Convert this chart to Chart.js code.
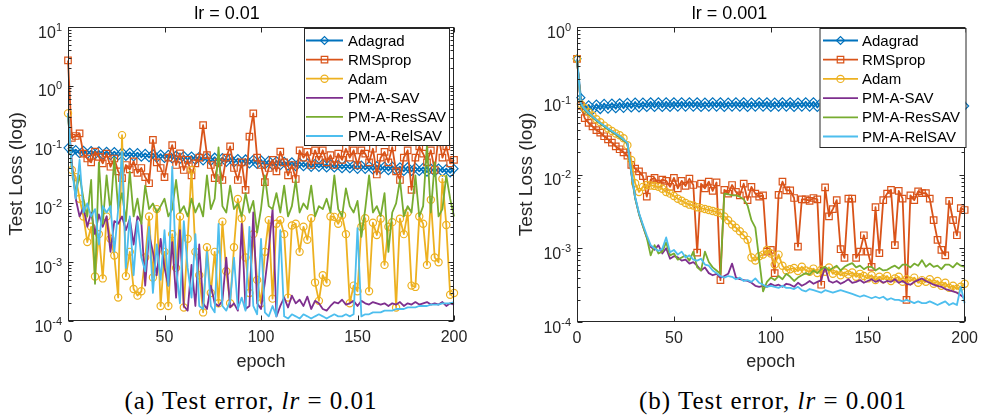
<!DOCTYPE html>
<html>
<head>
<meta charset="utf-8">
<script src="https://cdn.jsdelivr.net/npm/chart.js@4.4.1/dist/chart.umd.min.js"></script>
<style>
  body { margin: 0; background: #fff; width: 985px; height: 419px; overflow: hidden; position: relative; }
  .panel { position: absolute; top: 0; }
  .cap {
    position: absolute; top: 386px; line-height: 30px; white-space: nowrap;
    font-family: "Liberation Serif", "DejaVu Serif", serif; font-size: 25px; letter-spacing: 1px;
    color: #000; transform: translateX(-50%);
  }
</style>
</head>
<body>
<div class="panel" style="left:0"><canvas id="lossA" width="490" height="380"></canvas></div>
<div class="panel" style="left:490px"><canvas id="lossB" width="495" height="380"></canvas></div>
<div class="cap" style="left:251px">(a) Test error, <i>lr</i> = 0.01</div>
<div class="cap" style="left:773px">(b) Test error, <i>lr</i> = 0.001</div>
<script>
// sampled epochs (every 2nd epoch)
const epochs = [0,2,4,6,8,10,12,14,16,18,20,22,24,26,28,30,32,34,36,38,40,42,44,46,48,50,52,54,56,58,
  60,62,64,66,68,70,72,74,76,78,80,82,84,86,88,90,92,94,96,98,100,102,104,106,108,110,112,114,116,118,
  120,122,124,126,128,130,132,134,136,138,140,142,144,146,148,150,152,154,156,158,160,162,164,166,168,
  170,172,174,176,178,180,182,184,186,188,190,192,194,196,198,200];

const methods = ['Adagrad', 'RMSprop', 'Adam', 'PM-A-SAV', 'PM-A-ResSAV', 'PM-A-RelSAV'];
const xTicks = [0, 50, 100, 150, 200];

// ---- lr = 0.01 ----
const adagradA = [.088,.074,.082,.070,.080,.068,.079,.067,.078,.066,
  .077,.065,.076,.064,.075,.063,.074,.062,.073,.061,
  .071,.060,.070,.059,.069,.058,.068,.057,.066,.056,
  .065,.055,.064,.054,.063,.053,.062,.052,.061,.051,
  .060,.050,.059,.049,.058,.048,.057,.047,.056,.046,
  .055,.045,.054,.044,.053,.044,.052,.043,.051,.042,
  .050,.042,.049,.041,.048,.041,.048,.040,.047,.040,
  .046,.039,.046,.039,.045,.038,.045,.038,.044,.037,
  .044,.037,.043,.036,.043,.036,.042,.035,.042,.035,
  .041,.035,.041,.034,.040,.034,.040,.034,.039,.033,
  .039];
const rmspropA = [2.7,.13,.14,.155,.07,.058,.05,.076,.062,.048,
  .07,.042,.058,.035,.027,.045,.038,.052,.033,.04,
  .028,.022,.12,.05,.04,.028,.06,.098,.045,.071,
  .037,.055,.03,.048,.06,.215,.066,.045,.027,.05,
  .025,.06,.093,.04,.025,.05,.017,.137,.34,.06,
  .045,.023,.04,.055,.035,.076,.05,.03,.045,.026,
  .08,.06,.075,.045,.08,.055,.08,.05,.066,.045,
  .07,.055,.085,.06,.08,.045,.08,.07,.05,.085,
  .031,.06,.075,.05,.09,.035,.025,.06,.08,.017,
  .06,.093,.07,.05,.08,.037,.137,.06,.093,.048,
  .055];
const adamA = [.34,.037,.028,.012,.006,.0022,.004,.00057,.003,.00053,
  .006,.0025,.0013,.00025,.145,.00058,.0015,.00035,.00027,.00032,
  .0012,.006,.00055,.008,.00018,.0015,.00018,.003,.0008,.006,
  .00017,.0025,.037,.0015,.0006,.00014,.0018,.0003,.0015,.0002,
  .0049,.0007,.0002,.0018,.0119,.0056,.0012,.0003,.003,.0005,
  .0002,.0015,.0052,.00024,.0045,.0052,.003,.00025,.0042,.0045,
  .0015,.004,.0024,.0056,.00045,.00022,.0006,.00045,.006,.0059,
  .0045,.0063,.003,.0002,.0004,.00032,.004,.0056,.00032,.0047,
  .0029,.0055,.0009,.004,.0048,.00017,.0055,.003,.007,.0004,
  .00038,.006,.0045,.0009,.0115,.0012,.001,.026,.0043,.00028,
  .0003];
const savA = [.34,.05,.012,.006,.0085,.004,.007,.003,.0065,.004,
  .006,.0015,.005,.0045,.006,.0035,.0055,.002,.006,.0048,
  .0004,.003,.0015,.0006,.0025,.0008,.0004,.0022,.00025,.0035,
  .00018,.00015,.0009,.00018,.002,.0002,.00016,.0004,.0002,.00018,
  .00022,.0012,.00017,.0002,.00015,.0045,.00016,.00018,.007,.0002,
  .00016,.00045,.0016,.008,.00012,.00018,.00025,.00017,.00027,.0002,
  .00023,.00018,.00026,.00016,.00022,.0002,.00016,.00015,.00018,.00021,
  .0002,.00023,.00019,.0002,.00022,.00018,.00022,.0002,.00019,.00021,
  .0002,.00019,.0002,.00018,.0002,.00019,.00021,.00018,.0002,.00019,
  .00021,.00019,.0002,.00021,.00019,.0002,.00019,.00021,.00018,.0002,
  .00019];
const resSavA = [.34,.04,.015,.03,.012,.006,.025,.00043,.05,.0045,
  .03,.007,.06,.008,.015,.005,.035,.006,.012,.0045,
  .02,.008,.01,.007,.009,.012,.006,.008,.025,.007,
  .009,.006,.012,.007,.01,.006,.03,.008,.012,.09,
  .009,.007,.02,.008,.01,.006,.015,.007,.011,.0032,
  .008,.03,.009,.008,.015,.007,.02,.006,.009,.025,
  .007,.01,.008,.02,.006,.009,.008,.012,.007,.03,
  .008,.006,.018,.009,.007,.011,.0027,.008,.03,.007,
  .009,.006,.015,.0015,.007,.01,.025,.006,.009,.007,
  .03,.006,.009,.1,.007,.05,.006,.008,.03,.012,
  .006];
const relSavA = [.34,.04,.012,.055,.007,.01,.006,.008,.002,.009,
  .007,.009,.0015,.008,.076,.0008,.006,.0006,.005,.0012,
  .0007,.004,.0003,.002,.0005,.0035,.0004,.042,.0008,.0002,
  .005,.0008,.00025,.003,.00018,.00016,.0015,.00018,.00014,.0045,
  .00018,.00015,.00022,.0012,.00016,.00025,.00015,.004,.00018,.00013,
  .0025,.00014,.00012,.00018,.00012,.0035,.00012,.00011,.00013,.00012,
  .00011,.00013,.00012,.00011,.00012,.00013,.00012,.00011,.00012,.00013,
  .00012,.00012,.00013,.00012,.00013,.0038,.00012,.00013,.00013,.00014,
  .00014,.00014,.00015,.00015,.00015,.00016,.00016,.00016,.00017,.00017,
  .00017,.00018,.00018,.00018,.00019,.00019,.00019,.0002,.0002,.0002,
  .00021];

// ---- lr = 0.001 ----
const adagradB = [.37,.11,.075,.088,.074,.09,.076,.092,.077,.093,
  .078,.094,.079,.095,.08,.096,.08,.096,.081,.097,
  .081,.097,.081,.097,.081,.097,.082,.097,.082,.097,
  .082,.097,.081,.096,.082,.097,.082,.097,.081,.096,
  .082,.097,.082,.097,.081,.096,.082,.097,.082,.097,
  .081,.096,.082,.097,.082,.097,.081,.096,.082,.097,
  .082,.097,.081,.096,.082,.097,.082,.097,.081,.096,
  .082,.097,.082,.097,.081,.096,.082,.097,.082,.097,
  .081,.096,.082,.097,.082,.097,.081,.096,.082,.097,
  .082,.097,.081,.096,.082,.097,.082,.097,.081,.096,
  .085];
const rmspropB = [.37,.085,.058,.05,.045,.04,.037,.033,.03,.027,
  .024,.022,.02,.018,.0135,.012,.011,.0095,.005,.0085,
  .009,.0075,.0085,.0082,.0068,.009,.0065,.0082,.007,.0088,
  .0072,.00087,.0075,.0065,.008,.006,.0078,.00037,.0062,.0055,
  .0072,.0058,.0052,.0075,.0045,.0068,.0055,.005,.0052,.0009,
  .00095,.00046,.0053,.008,.0061,.0061,.0048,.00105,.0046,.0046,
  .0044,.0048,.0046,.00032,.0067,.0027,.0034,.0045,.00097,.00074,
  .0047,.0047,.00074,.0009,.0015,.0009,.00056,.0036,.00086,.0045,
  .0055,.0062,.0011,.006,.0047,.0002,.0052,.0045,.0059,.0056,
  .0056,.0047,.0024,.0013,.00095,.0008,.0044,.0024,.0015,.0035,
  .0033];
const adamB = [.37,.09,.079,.07,.063,.056,.051,.046,.042,.039,
  .036,.034,.031,.025,.0157,.0076,.0058,.0068,.0072,.0071,
  .007,.0068,.0064,.0058,.0055,.0051,.0047,.0044,.0041,.0039,
  .0038,.0036,.0035,.0034,.0033,.0032,.0031,.003,.0027,.0024,
  .0021,.0019,.0017,.0015,.0013,.00075,.00068,.00078,.00082,.00095,
  .00085,.0006,.00082,.00058,.0005,.00052,.00054,.00049,.00056,.0005,
  .00048,.00053,.00046,.00051,.00048,.00055,.00045,.00049,.00043,.00047,
  .00044,.00047,.00041,.00045,.00042,.00039,.00043,.00037,.00041,.00038,
  .00042,.00036,.00039,.00041,.00035,.00038,.00036,.0004,.00034,.00037,
  .00035,.00038,.00033,.00036,.00031,.00034,.00029,.00031,.00028,.0003,
  .00033];
const savB = [.37,.088,.075,.066,.06,.054,.049,.045,.041,.038,
  .035,.032,.029,.0265,.0105,.0048,.0029,.002,.0014,.00105,
  .00095,.0011,.00085,.001,.00072,.00078,.00075,.00068,.0007,.00062,
  .00065,.00058,.0005,.00055,.00046,.00043,.00045,.0004,.00042,.00045,
  .00062,.0004,.00038,.00037,.00036,.00034,.00031,.0003,.00031,.0003,
  .00033,.00031,.00032,.0003,.00033,.00032,.0003,.00034,.00031,.00033,
  .00036,.00033,.00035,.00037,.00056,.00036,.00034,.00036,.00033,.00035,
  .00038,.00034,.00035,.00037,.00034,.00036,.00038,.00035,.00037,.00034,
  .00036,.00035,.00038,.00034,.00036,.00033,.00032,.00035,.00037,.00039,
  .00036,.00034,.00032,.00031,.0003,.00028,.00027,.00026,.00025,.00023,
  .00021];
const resSavB = [.37,.088,.075,.066,.06,.054,.049,.045,.041,.038,
  .035,.032,.029,.0265,.0105,.0048,.0029,.002,.0014,.0008,
  .0011,.00085,.0009,.0012,.0008,.00085,.0007,.00075,.0008,.00068,
  .0009,.00055,.0005,.0009,.00065,.00055,.0005,.00045,.0055,.0054,
  .0052,.0052,.005,.0046,.0038,.0024,.0019,.0007,.00026,.00035,
  .0004,.00037,.00042,.00038,.00045,.00041,.00036,.0004,.00043,.00046,
  .00044,.0005,.00046,.00052,.00056,.0005,.00054,.00058,.0005,.00056,
  .0006,.00063,.00055,.00058,.00052,.00056,.00056,.0005,.00054,.0005,
  .00051,.00055,.00058,.00053,.0006,.0006,.00055,.00062,.00058,.00069,
  .00056,.00062,.00056,.00058,.00052,.0006,.0006,.00055,.00063,.00058,
  .00056];
const relSavB = [.37,.09,.077,.068,.061,.055,.05,.046,.042,.039,
  .036,.033,.03,.027,.011,.005,.003,.0021,.0015,.0011,
  .001,.00092,.00098,.0014,.00088,.00095,.00082,.0009,.00075,.0008,
  .0007,.00068,.00072,.0006,.00058,.0005,.00046,.00042,.0004,.00042,
  .00041,.00038,.0004,.00036,.00037,.00035,.00039,.00034,.00032,.0003,
  .00031,.0003,.00029,.00031,.00029,.00029,.00028,.0003,.00027,.00026,
  .00028,.00027,.00026,.00025,.00027,.00026,.00025,.00026,.00027,.00026,
  .00025,.00024,.00023,.00022,.00023,.00022,.00021,.00022,.00021,.00022,
  .0002,.00021,.0002,.0002,.00019,.0002,.00019,.00018,.00019,.00018,
  .00018,.00019,.00018,.00017,.00018,.00019,.00017,.00018,.00017,.0003,
  .00018];

// matlab default line colours + markers
const looks = [
  { color: '#0072BD', point: 'rectRot', r: 4 },
  { color: '#D95319', point: 'rect', r: 4.6 },
  { color: '#EDB120', point: 'circle', r: 3.6 },
  { color: '#7E2F8E', point: false, r: 0 },
  { color: '#77AC30', point: false, r: 0 },
  { color: '#4DBEEE', point: false, r: 0 }
];

const FONT = '"Liberation Sans", Arial, sans-serif';
const AXIS = '#262626';

function drawMarker(ctx, style, x, y, r) {
  ctx.beginPath();
  if (style === 'rectRot') {
    ctx.moveTo(x - r, y); ctx.lineTo(x, y - r); ctx.lineTo(x + r, y); ctx.lineTo(x, y + r); ctx.closePath();
  } else if (style === 'rect') {
    const s = r * Math.SQRT1_2;
    ctx.rect(x - s, y - s, 2 * s, 2 * s);
  } else if (style === 'circle') {
    ctx.arc(x, y, r, 0, Math.PI * 2);
  }
  ctx.stroke();
}

// box, inward ticks, 10^n labels and the inset legend
const matlabFrame = {
  id: 'matlabFrame',
  afterDraw(chart, args, opts) {
    const { ctx, chartArea: a } = chart;
    const xs = chart.scales.x, ys = chart.scales.y;
    ctx.save();
    ctx.strokeStyle = AXIS;
    ctx.lineWidth = 1;
    const L = Math.round(a.left) + 0.5, R = Math.round(a.right) - 0.5;
    const T = Math.round(a.top) + 0.5, B = Math.round(a.bottom) - 0.5;
    ctx.strokeRect(L, T, R - L, B - T);

    ctx.beginPath();
    xTicks.forEach(v => {
      const px = Math.round(xs.getPixelForValue(v)) + 0.5;
      ctx.moveTo(px, B); ctx.lineTo(px, B - 5);
      ctx.moveTo(px, T); ctx.lineTo(px, T + 5);
    });
    const lo = Math.round(Math.log10(ys.min)), hi = Math.round(Math.log10(ys.max));
    for (let d = lo; d <= hi; d++) {
      const py = Math.round(ys.getPixelForValue(Math.pow(10, d))) + 0.5;
      ctx.moveTo(L, py); ctx.lineTo(L + 5, py);
      ctx.moveTo(R, py); ctx.lineTo(R - 5, py);
      if (d < hi) {
        for (let k = 2; k < 10; k++) {
          const pm = Math.round(ys.getPixelForValue(k * Math.pow(10, d))) + 0.5;
          ctx.moveTo(L, pm); ctx.lineTo(L + 3, pm);
          ctx.moveTo(R, pm); ctx.lineTo(R - 3, pm);
        }
      }
    }
    ctx.stroke();

    ctx.fillStyle = AXIS;
    ctx.textAlign = 'left';
    ctx.textBaseline = 'alphabetic';
    for (let d = lo; d <= hi; d++) {
      const py = ys.getPixelForValue(Math.pow(10, d));
      ctx.font = '16px ' + FONT;
      const wb = ctx.measureText('10').width;
      ctx.font = '11px ' + FONT;
      const we = ctx.measureText(String(d)).width;
      const x0 = a.left - 6 - wb - we;
      ctx.font = '16px ' + FONT;
      ctx.fillText('10', x0, py + 10.5);
      ctx.font = '11px ' + FONT;
      ctx.fillText(String(d), x0 + wb, py + 3.5);
    }

    // legend
    const lg = opts.legend;
    ctx.fillStyle = '#fff';
    ctx.fillRect(lg.x, lg.y, lg.w, lg.h);
    ctx.strokeStyle = AXIS;
    ctx.lineWidth = 1;
    ctx.strokeRect(lg.x + 0.5, lg.y + 0.5, lg.w, lg.h);
    ctx.font = '15px ' + FONT;
    ctx.textBaseline = 'middle';
    methods.forEach((name, i) => {
      const y = lg.row0 + i * lg.step;
      const look = looks[i];
      ctx.strokeStyle = look.color;
      ctx.lineWidth = 1.8;
      ctx.beginPath();
      ctx.moveTo(lg.line0, y); ctx.lineTo(lg.line1, y);
      ctx.stroke();
      if (look.point) {
        ctx.lineWidth = 1.2;
        drawMarker(ctx, look.point, (lg.line0 + lg.line1) / 2, y, look.r);
      }
      ctx.fillStyle = '#000';
      ctx.fillText(name, lg.text, y + 1);
    });
    ctx.restore();
  }
};

function lossChart(id, title, series, yMax, layout) {
  const datasets = series.map((vals, i) => ({
    label: methods[i],
    data: epochs.map((e, j) => ({ x: e, y: vals[j] })),
    borderColor: looks[i].color,
    borderWidth: 1.8,
    borderJoinStyle: 'round',
    pointStyle: looks[i].point || 'circle',
    pointRadius: looks[i].r,
    pointBorderWidth: 1.2,
    pointBorderColor: looks[i].color,
    pointBackgroundColor: 'rgba(0,0,0,0)',
    tension: 0,
    clip: false,
    order: 6 - i
  }));

  return new Chart(document.getElementById(id), {
    type: 'line',
    data: { datasets },
    options: {
      responsive: false,
      animation: false,
      events: [],
      layout: { padding: { left: 0, right: layout.padRight, top: 0, bottom: 0 } },
      plugins: {
        legend: { display: false },
        tooltip: { enabled: false },
        title: {
          display: true, text: title, color: '#000',
          font: { family: FONT, size: 18, weight: 'normal' },
          padding: { top: 3, bottom: 2.4 }
        },
        matlabFrame: { legend: layout.legend }
      },
      scales: {
        x: {
          type: 'linear', min: 0, max: 200,
          grid: { display: false, drawTicks: false },
          border: { display: false },
          afterBuildTicks: s => { s.ticks = xTicks.map(v => ({ value: v })); },
          ticks: { padding: 7, color: AXIS, font: { family: FONT, size: 16 } },
          title: {
            display: true, text: 'epoch', color: AXIS,
            font: { family: FONT, size: 18 }, padding: { top: 0, bottom: 7 }
          },
          afterFit: s => { s.height = layout.xHeight; }
        },
        y: {
          type: 'logarithmic', min: 1e-4, max: yMax,
          grid: { display: false, drawTicks: false },
          border: { display: false },
          ticks: { display: false },
          title: {
            display: true, text: 'Test Loss (log)', color: AXIS,
            font: { family: FONT, size: 19 }, padding: { top: layout.yTitlePad, bottom: 0 }
          },
          afterFit: s => { s.width = layout.yWidth; }
        }
      }
    },
    plugins: [matlabFrame]
  });
}

lossChart('lossA', 'lr = 0.01', [adagradA, rmspropA, adamA, savA, resSavA, relSavA], 10, {
  padRight: 36, xHeight: 59, yWidth: 68, yTitlePad: 5,
  legend: { x: 304, y: 28, w: 145, h: 117, line0: 306, line1: 343, text: 348, row0: 40.5, step: 19.1 }
});
lossChart('lossB', 'lr = 0.001', [adagradB, rmspropB, adamB, savB, resSavB, relSavB], 1, {
  padRight: 16, xHeight: 58, yWidth: 87, yTitlePad: 25,
  legend: { x: 329.5, y: 28, w: 146, h: 119, line0: 333, line1: 368, text: 372, row0: 40.5, step: 19.2 }
});
</script>
</body>
</html>
